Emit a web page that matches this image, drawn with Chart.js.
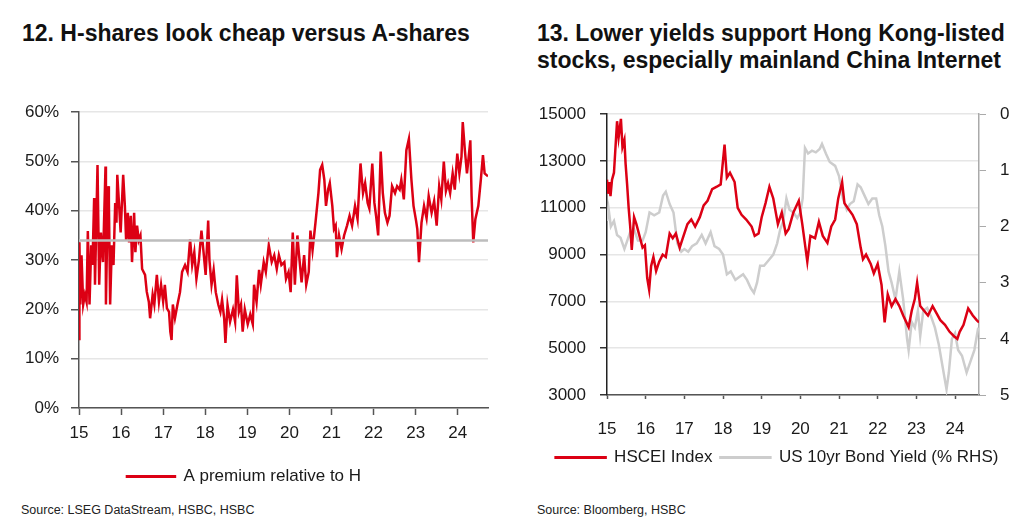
<!DOCTYPE html>
<html>
<head>
<meta charset="utf-8">
<script src="https://cdn.jsdelivr.net/npm/chart.js@4.4.1/dist/chart.umd.min.js"></script>
<style>
  body { margin: 0; background: #fff; width: 1024px; height: 531px; position: relative; overflow: hidden; font-family: "Liberation Sans", Arial, sans-serif; color: #111; }
  .title { position: absolute; font-weight: bold; font-size: 23px; line-height: 27px; white-space: nowrap; }
  .source { position: absolute; top: 503px; font-size: 12.5px; color: #222; }
  canvas { position: absolute; }
</style>
</head>
<body>
<div class="title" style="left:22px; top:20px;">12. H-shares look cheap versus A-shares</div>
<div class="title" style="left:537px; top:20px;">13. Lower yields support Hong Kong-listed<br>stocks, especially mainland China Internet</div>
<canvas id="premiumChart" width="520" height="405" style="left:0; top:90px;"></canvas>
<canvas id="hsceiChart" width="504" height="405" style="left:520px; top:90px;"></canvas>
<div class="source" style="left:21px;">Source: LSEG DataStream, HSBC, HSBC</div>
<div class="source" style="left:537px;">Source: Bloomberg, HSBC</div>
<script>
// chart 12: A-share premium over H-shares (%)
var premiumDates = [2015.00, 2015.01, 2015.03, 2015.06, 2015.10, 2015.14, 2015.18, 2015.21, 2015.25, 2015.29,
  2015.32, 2015.36, 2015.38, 2015.44, 2015.48, 2015.52, 2015.57, 2015.63, 2015.64, 2015.69,
  2015.71, 2015.74, 2015.78, 2015.82, 2015.86, 2015.89, 2015.91, 2015.95, 2015.99, 2016.05,
  2016.09, 2016.12, 2016.16, 2016.19, 2016.23, 2016.26, 2016.31, 2016.34, 2016.38, 2016.42,
  2016.46, 2016.50, 2016.57, 2016.61, 2016.66, 2016.69, 2016.75, 2016.79, 2016.85, 2016.90,
  2016.95, 2017.00, 2017.04, 2017.09, 2017.14, 2017.17, 2017.20, 2017.23, 2017.28, 2017.34,
  2017.40, 2017.45, 2017.52, 2017.58, 2017.64, 2017.69, 2017.74, 2017.79, 2017.85, 2017.91,
  2017.96, 2018.01, 2018.07, 2018.10, 2018.15, 2018.20, 2018.25, 2018.31, 2018.36, 2018.40,
  2018.45, 2018.48, 2018.53, 2018.59, 2018.66, 2018.71, 2018.75, 2018.80, 2018.85, 2018.89,
  2018.94, 2019.01, 2019.07, 2019.13, 2019.16, 2019.22, 2019.28, 2019.32, 2019.39, 2019.44,
  2019.51, 2019.58, 2019.64, 2019.70, 2019.75, 2019.81, 2019.88, 2019.92, 2019.98, 2020.03,
  2020.08, 2020.13, 2020.19, 2020.23, 2020.29, 2020.35, 2020.40, 2020.46, 2020.50, 2020.55,
  2020.62, 2020.69, 2020.73, 2020.78, 2020.83, 2020.87, 2020.92, 2020.96, 2021.02, 2021.06,
  2021.10, 2021.13, 2021.18, 2021.24, 2021.30, 2021.37, 2021.43, 2021.49, 2021.56, 2021.62,
  2021.69, 2021.75, 2021.80, 2021.86, 2021.90, 2021.97, 2022.02, 2022.06, 2022.11, 2022.17,
  2022.22, 2022.27, 2022.33, 2022.38, 2022.44, 2022.51, 2022.56, 2022.62, 2022.66, 2022.72,
  2022.78, 2022.84, 2022.90, 2022.95, 2023.01, 2023.04, 2023.08, 2023.14, 2023.20, 2023.26,
  2023.31, 2023.38, 2023.44, 2023.50, 2023.56, 2023.61, 2023.67, 2023.72, 2023.77, 2023.82,
  2023.88, 2023.93, 2023.99, 2024.04, 2024.09, 2024.12, 2024.17, 2024.22, 2024.25, 2024.30,
  2024.33, 2024.37, 2024.42, 2024.49, 2024.55, 2024.60, 2024.64, 2024.72];
var premiumValues = [14, 33.6, 21, 31, 21, 23, 21.5, 35.9, 21, 33,
  29, 42.6, 25, 49.3, 25, 35.6, 29.6, 49, 21, 45,
  42, 21, 33, 29, 41.6, 37.6, 47.3, 41.6, 35.6, 47.3,
  41, 34, 39.6, 33.6, 39, 29.6, 39.6, 31.6, 37, 34,
  35, 28.2, 27, 23.6, 21.5, 18.2, 23, 21, 27, 21.6,
  25, 21.6, 25, 20.2, 19.5, 15.5, 13.8, 21, 18.2, 21,
  23.5, 27.6, 29, 27.6, 34.2, 29, 31.6, 26.2, 30, 36,
  31.6, 27, 38, 30, 25, 28, 23.5, 21, 19.5, 22,
  18.2, 13.2, 20.9, 17.5, 20, 17.5, 26.9, 19.5, 21, 15.5,
  20, 17, 19, 17, 25, 21.5, 28, 25, 29.6, 27.6,
  33, 29.6, 31, 28.2, 31, 29, 29.6, 26.2, 27.6, 23.5,
  35.6, 25, 35, 31, 25.5, 31, 25, 27.6, 36, 32,
  37.6, 43.6, 48.3, 49.3, 46.3, 41, 44.3, 45.6, 41, 36.3,
  37, 30.6, 35, 32.2, 35, 37, 39, 37, 41, 38.3,
  49.6, 43.6, 45.6, 41.6, 40.5, 49.6, 41.6, 39, 35, 52,
  43.6, 39.6, 37.6, 39, 45, 43.6, 45, 44.3, 46.3, 42.3,
  52.3, 54.6, 46.3, 41, 38, 36.3, 29.6, 37.6, 41, 38.5,
  43, 39.6, 42, 37, 45, 42.3, 50, 44, 45.6, 43.6,
  47.6, 44.3, 51.6, 47.6, 51, 58, 52.3, 47.6, 50, 54.3,
  43, 33.6, 38.3, 41, 46.3, 51.3, 47.6, 47];
var premiumAverage = 34;

// chart 13: HSCEI index level and US 10yr yield (%)
var hsceiDates = [2015.00, 2015.03, 2015.06, 2015.09, 2015.13, 2015.18, 2015.26, 2015.30, 2015.36, 2015.40,
  2015.45, 2015.48, 2015.52, 2015.56, 2015.60, 2015.64, 2015.70, 2015.76, 2015.84, 2015.92,
  2015.98, 2016.04, 2016.09, 2016.14, 2016.20, 2016.27, 2016.35, 2016.44, 2016.52, 2016.62,
  2016.70, 2016.78, 2016.88, 2016.96, 2017.08, 2017.18, 2017.28, 2017.40, 2017.50, 2017.60,
  2017.72, 2017.84, 2017.94, 2018.04, 2018.10, 2018.18, 2018.30, 2018.38, 2018.48, 2018.60,
  2018.74, 2018.82, 2018.92, 2019.00, 2019.10, 2019.20, 2019.30, 2019.42, 2019.52, 2019.62,
  2019.70, 2019.82, 2019.96, 2020.05, 2020.18, 2020.26, 2020.38, 2020.48, 2020.58, 2020.70,
  2020.80, 2020.90, 2020.98, 2021.08, 2021.14, 2021.22, 2021.35, 2021.46, 2021.56, 2021.62,
  2021.70, 2021.82, 2021.90, 2022.00, 2022.10, 2022.18, 2022.26, 2022.36, 2022.46, 2022.56,
  2022.66, 2022.80, 2022.88, 2022.96, 2023.02, 2023.10, 2023.20, 2023.30, 2023.42, 2023.52,
  2023.62, 2023.74, 2023.86, 2023.98, 2024.06, 2024.12, 2024.22, 2024.34, 2024.46, 2024.56,
  2024.62];
var hsceiValues = [12200, 11600, 12100, 11500, 12200, 12500, 14700, 14000, 14800, 13600,
  13900, 12900, 12000, 11000, 10200, 9200, 10600, 10300, 9800, 9300,
  9400, 8000, 7500, 8500, 8900, 8300, 8700, 9000, 8900, 9900,
  9700, 9900, 9300, 9700, 10300, 10500, 10200, 10600, 11100, 11300,
  11800, 11900, 12000, 13700, 12300, 12500, 12100, 11000, 10700, 10500,
  10200, 9800, 9900, 10600, 11200, 11900, 11400, 10300, 10800, 9900,
  10100, 10800, 11300, 10300, 8700, 9800, 9700, 10400, 9800, 9500,
  10200, 10500, 11400, 12100, 11200, 11000, 10700, 10300, 9300, 8800,
  9000, 8600, 8200, 8600, 7700, 6100, 7300, 6800, 7100, 6800,
  6400, 5900, 6600, 7100, 7800, 6800, 6600, 6400, 6800, 6500,
  6200, 6000, 5700, 5500, 5400, 5700, 6000, 6700, 6400, 6200,
  6100];
var yieldDates = [2015.00, 2015.04, 2015.10, 2015.18, 2015.26, 2015.35, 2015.45, 2015.50, 2015.60, 2015.70,
  2015.80, 2015.92, 2016.00, 2016.10, 2016.22, 2016.35, 2016.45, 2016.52, 2016.62, 2016.72,
  2016.82, 2016.92, 2017.00, 2017.10, 2017.20, 2017.32, 2017.45, 2017.55, 2017.68, 2017.78,
  2017.90, 2018.00, 2018.10, 2018.20, 2018.32, 2018.42, 2018.52, 2018.62, 2018.72, 2018.80,
  2018.88, 2018.96, 2019.06, 2019.18, 2019.30, 2019.40, 2019.48, 2019.56, 2019.64, 2019.72,
  2019.82, 2019.92, 2020.00, 2020.06, 2020.12, 2020.20, 2020.30, 2020.40, 2020.50, 2020.56,
  2020.66, 2020.76, 2020.90, 2021.00, 2021.10, 2021.20, 2021.28, 2021.38, 2021.48, 2021.56,
  2021.66, 2021.76, 2021.86, 2021.96, 2022.04, 2022.12, 2022.20, 2022.28, 2022.36, 2022.46,
  2022.56, 2022.66, 2022.76, 2022.80, 2022.88, 2022.96, 2023.04, 2023.10, 2023.18, 2023.28,
  2023.38, 2023.48, 2023.58, 2023.68, 2023.78, 2023.84, 2023.92, 2024.00, 2024.08, 2024.18,
  2024.30, 2024.40, 2024.50, 2024.60];
var yieldValues = [1.9, 1.68, 2.0, 1.9, 2.15, 2.2, 2.4, 2.3, 2.1, 2.05,
  2.25, 2.25, 2.1, 1.75, 1.8, 1.75, 1.45, 1.38, 1.6, 1.75,
  2.3, 2.45, 2.4, 2.45, 2.35, 2.3, 2.15, 2.3, 2.1, 2.35,
  2.4, 2.5, 2.85, 2.8, 2.95, 2.9, 2.85, 2.95, 3.1, 3.18,
  3.0, 2.7, 2.7, 2.6, 2.5, 2.3, 2.05, 1.9, 1.5, 1.7,
  1.75, 1.85, 1.75, 1.5, 0.6, 0.7, 0.65, 0.68, 0.62, 0.53,
  0.7, 0.85, 0.92, 1.1, 1.5, 1.7, 1.6, 1.55, 1.25, 1.3,
  1.45, 1.6, 1.5, 1.5, 1.8, 2.0, 2.35, 2.8, 3.0, 3.3,
  2.8, 3.3, 4.0, 4.2, 3.7, 3.8, 3.5, 3.95, 3.5, 3.45,
  3.6, 3.8, 4.1, 4.5, 4.9, 4.6, 4.0, 3.9, 4.2, 4.3,
  4.6, 4.4, 4.2, 3.8];

var yearTicks = [2015, 2016, 2017, 2018, 2019, 2020, 2021, 2022, 2023, 2024];

var red = '#dc0014';
var lightGrey = '#cdcdcd';

function pairs(xs, ys) {
  return xs.map(function(x, i) { return { x: x, y: ys[i] }; });
}
function yearTicksOnly(scale) {
  scale.ticks = yearTicks.map(function(v) { return { value: v }; });
}
function shortYear(v) {
  return String(v).slice(2);
}

Chart.defaults.font.family = '"Liberation Sans", Arial, sans-serif';
Chart.defaults.font.size = 17;
Chart.defaults.color = '#1a1a1a';

new Chart(document.getElementById('premiumChart'), {
  type: 'line',
  data: {
    datasets: [{
      label: 'Average',
      data: [{ x: premiumDates[0], y: premiumAverage }, { x: premiumDates[premiumDates.length - 1], y: premiumAverage }],
      borderColor: '#bdbdbd',
      backgroundColor: '#bdbdbd',
      borderWidth: 2.5,
      pointRadius: 0,
      order: 0
    }, {
      label: 'A premium relative to H',
      data: pairs(premiumDates, premiumValues),
      borderColor: red,
      backgroundColor: red,
      borderWidth: 2.5,
      pointRadius: 0,
      order: 1
    }]
  },
  options: {
    responsive: false,
    animation: false,
    devicePixelRatio: 1,
    layout: { padding: { left: 0, right: 32, top: 20, bottom: 0 } },
    plugins: {
      legend: {
        position: 'bottom',
        maxHeight: 49,
        labels: {
          boxWidth: 48,
          boxHeight: 0.5,
          padding: 22,
          filter: function(item) { return item.text !== 'Average'; }
        }
      },
      tooltip: { enabled: false }
    },
    scales: {
      x: {
        type: 'linear',
        min: 2015,
        max: 2024.72,
        afterBuildTicks: yearTicksOnly,
        afterFit: function(s) { s.height = 38; },
        ticks: { padding: 8, maxRotation: 0, autoSkip: false, callback: shortYear },
        grid: { drawOnChartArea: false, tickLength: 7, tickColor: '#555', tickWidth: 1.5 },
        border: { color: '#555', width: 1.5 }
      },
      y: {
        min: 0,
        max: 60,
        afterFit: function(s) { s.width = 79; },
        ticks: { stepSize: 10, padding: 12, callback: function(v) { return v + '%'; } },
        grid: { color: '#e6e6e6', lineWidth: 1.5, tickLength: 8, tickColor: '#555' },
        border: { color: '#555', width: 1.5 }
      }
    }
  }
});

new Chart(document.getElementById('hsceiChart'), {
  type: 'line',
  data: {
    datasets: [{
      label: 'HSCEI Index',
      data: pairs(hsceiDates, hsceiValues),
      borderColor: red,
      backgroundColor: red,
      borderWidth: 2.5,
      pointRadius: 0,
      yAxisID: 'y'
    }, {
      label: 'US 10yr Bond Yield (% RHS)',
      data: pairs(yieldDates, yieldValues),
      borderColor: lightGrey,
      backgroundColor: lightGrey,
      borderWidth: 2.5,
      pointRadius: 0,
      yAxisID: 'y1'
    }]
  },
  options: {
    responsive: false,
    animation: false,
    devicePixelRatio: 1,
    layout: { padding: { left: 10, right: 0, top: 20, bottom: 19 } },
    plugins: {
      legend: {
        position: 'bottom',
        maxHeight: 35,
        labels: { boxWidth: 50, boxHeight: 0.5, padding: 8 }
      },
      tooltip: { enabled: false }
    },
    scales: {
      x: {
        type: 'linear',
        min: 2015,
        max: 2024.62,
        afterBuildTicks: yearTicksOnly,
        afterFit: function(s) { s.height = 46; },
        ticks: { padding: 20, maxRotation: 0, autoSkip: false, callback: shortYear },
        grid: { drawOnChartArea: false, tickLength: 4, tickColor: '#555', tickWidth: 1.5 },
        border: { color: '#555', width: 1.5 }
      },
      y: {
        position: 'left',
        min: 3000,
        max: 15000,
        afterFit: function(s) { s.width = 77; },
        ticks: { stepSize: 2000, padding: 14, callback: function(v) { return String(v); } },
        grid: { color: '#e6e6e6', lineWidth: 1.5, tickLength: 7, tickColor: '#333' },
        border: { color: '#222', width: 1.5 }
      },
      y1: {
        position: 'right',
        min: 0,
        max: 5,
        reverse: true,
        afterFit: function(s) { s.width = 45; },
        ticks: { stepSize: 1, padding: 14 },
        grid: { drawOnChartArea: false, tickLength: 7, tickColor: '#aaa' },
        border: { color: '#aaa', width: 1.5 }
      }
    }
  }
});
</script>
</body>
</html>
